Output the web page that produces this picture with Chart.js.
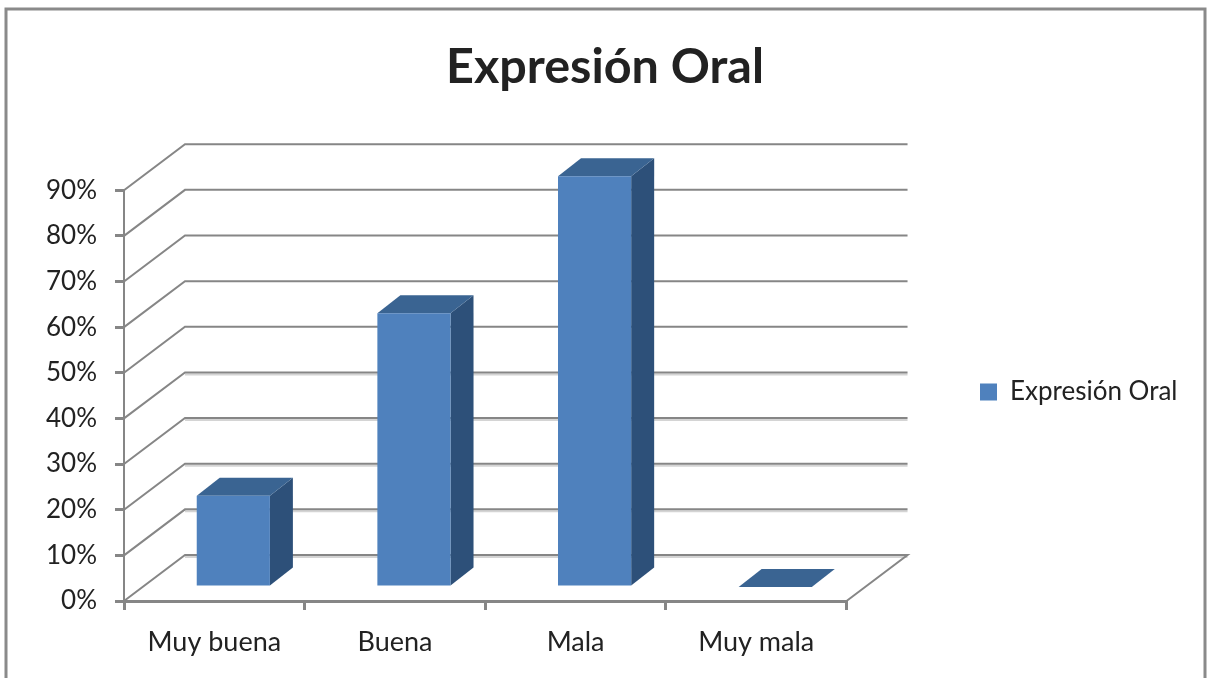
<!DOCTYPE html>
<html>
<head>
<meta charset="utf-8">
<title>Expresión Oral</title>
<style>
html, body { margin: 0; padding: 0; background: #fff; }
#wrap { position: relative; width: 1207px; height: 678px; overflow: hidden; }
</style>
<script src="https://cdn.jsdelivr.net/npm/chart.js@4"></script>
</head>
<body>
<div id="wrap"><canvas id="canvas" width="1207" height="678"></canvas></div>
<script>
var categories = ["Muy buena", "Buena", "Mala", "Muy mala"];
var seriesName = "Expresión Oral";
var seriesValues = [20, 60, 90, 0];

var lineGray = "#868686";
var frontBlue = "#4f81bd";
var topBlue = "#3a6492";
var sideBlue = "#2d5079";

// depth of the floor/back wall, and of each column
var wallDx = 61, wallDy = 46;
var barShiftX = 19, barShiftY = 14;
var barDx = 23, barDy = 18;

function poly(ctx, pts, fill) {
    ctx.beginPath();
    ctx.moveTo(pts[0][0], pts[0][1]);
    for (var i = 1; i < pts.length; i++) ctx.lineTo(pts[i][0], pts[i][1]);
    ctx.closePath();
    ctx.fillStyle = fill;
    ctx.fill();
}

var frame = {
    id: "frame",
    beforeDraw: function(chart) {
        var ctx = chart.ctx;
        ctx.save();
        ctx.strokeStyle = "#8a8a8a";
        ctx.lineWidth = 3;
        ctx.beginPath();
        ctx.moveTo(6, 678);
        ctx.lineTo(6, 9);
        ctx.lineTo(1205, 9);
        ctx.lineTo(1205, 678);
        ctx.stroke();
        ctx.restore();
    }
};

// title centred on the whole frame, legend set away from the plot
var placement = {
    id: "placement",
    afterLayout: function(chart) {
        var t = chart.titleBlock, l = chart.legend, w = l.width;
        t.left = 0;
        t.right = 1210;
        l.left = 974;
        l.right = 974 + w;
        l.top = 377;
        l.bottom = 407;
        l.height = 30;
    }
};

// back wall and side wall lines, one per y tick
var walls = {
    id: "walls",
    beforeDatasetsDraw: function(chart) {
        var ctx = chart.ctx, y = chart.scales.y, area = chart.chartArea;
        ctx.save();
        y.ticks.forEach(function(t) {
            var py = y.getPixelForValue(t.value);
            var low = t.value <= 40;
            if (low) {
                ctx.strokeStyle = "#d4d4d4";
                ctx.lineWidth = 2;
                ctx.beginPath();
                ctx.moveTo(area.left + wallDx, py - wallDy + 2);
                ctx.lineTo(area.right + wallDx, py - wallDy + 2);
                ctx.stroke();
            }
            ctx.strokeStyle = lineGray;
            ctx.lineWidth = 2;
            ctx.beginPath();
            ctx.moveTo(area.left, py);
            ctx.lineTo(area.left + wallDx, py - wallDy);
            ctx.lineTo(area.right + wallDx, py - wallDy);
            if (t.value === 0) ctx.lineTo(area.right, py);
            ctx.stroke();
        });
        ctx.restore();
    }
};

// side and top faces of each column; the front face is the library's own bar
var columns = {
    id: "columns",
    beforeDatasetDraw: function(chart, args) {
        var ctx = chart.ctx;
        ctx.save();
        ctx.translate(barShiftX, -barShiftY);
        args.meta.data.forEach(function(bar) {
            var p = bar.getProps(["x", "y", "base", "width"], true);
            var l = p.x - p.width / 2, r = p.x + p.width / 2;
            if (p.base > p.y) {
                poly(ctx, [[r, p.y], [r + barDx, p.y - barDy], [r + barDx, p.base - barDy], [r, p.base]], sideBlue);
            }
            poly(ctx, [[l, p.y], [l + barDx, p.y - barDy], [r + barDx, p.y - barDy], [r, p.y]], topBlue);
        });
    },
    afterDatasetDraw: function(chart) {
        chart.ctx.restore();
    }
};

var ctx = document.getElementById("canvas").getContext("2d");
window.myBar = new Chart(ctx, {
    type: "bar",
    data: {
        labels: categories,
        datasets: [{
            label: seriesName,
            data: seriesValues,
            backgroundColor: frontBlue,
            barPercentage: 0.405,
            categoryPercentage: 1,
            clip: false
        }]
    },
    plugins: [frame, placement, walls, columns],
    options: {
        responsive: false,
        animation: false,
        layout: { padding: { left: 0, right: 147, top: 38, bottom: 18 } },
        plugins: {
            tooltip: { enabled: false },
            title: {
                display: true,
                text: "Expresión Oral",
                color: "#222222",
                font: { family: "Lato", size: 48.5, weight: "bold" },
                padding: { top: 0, bottom: 94 }
            },
            legend: {
                position: "right",
                labels: {
                    boxWidth: 17,
                    boxHeight: 17,
                    padding: 6,
                    color: "#222222",
                    font: { family: "Lato", size: 26 }
                }
            }
        },
        scales: {
            x: {
                grid: { drawOnChartArea: false, color: lineGray, lineWidth: 3, tickLength: 9 },
                border: { color: lineGray, width: 3 },
                ticks: { color: "#222222", padding: 16, maxRotation: 0, font: { family: "Lato", size: 27 } },
                afterFit: function(scale) { scale.height = 59; }
            },
            y: {
                min: 0,
                max: 90,
                grid: { drawOnChartArea: false, color: lineGray, lineWidth: 3, tickLength: 9 },
                border: { color: lineGray, width: 2 },
                ticks: {
                    stepSize: 10,
                    color: "#222222",
                    padding: 18,
                    font: { family: "Lato", size: 26 },
                    callback: function(v) { return v + "%"; }
                },
                afterFit: function(scale) { scale.width = 124; }
            }
        }
    }
});
</script>
</body>
</html>
